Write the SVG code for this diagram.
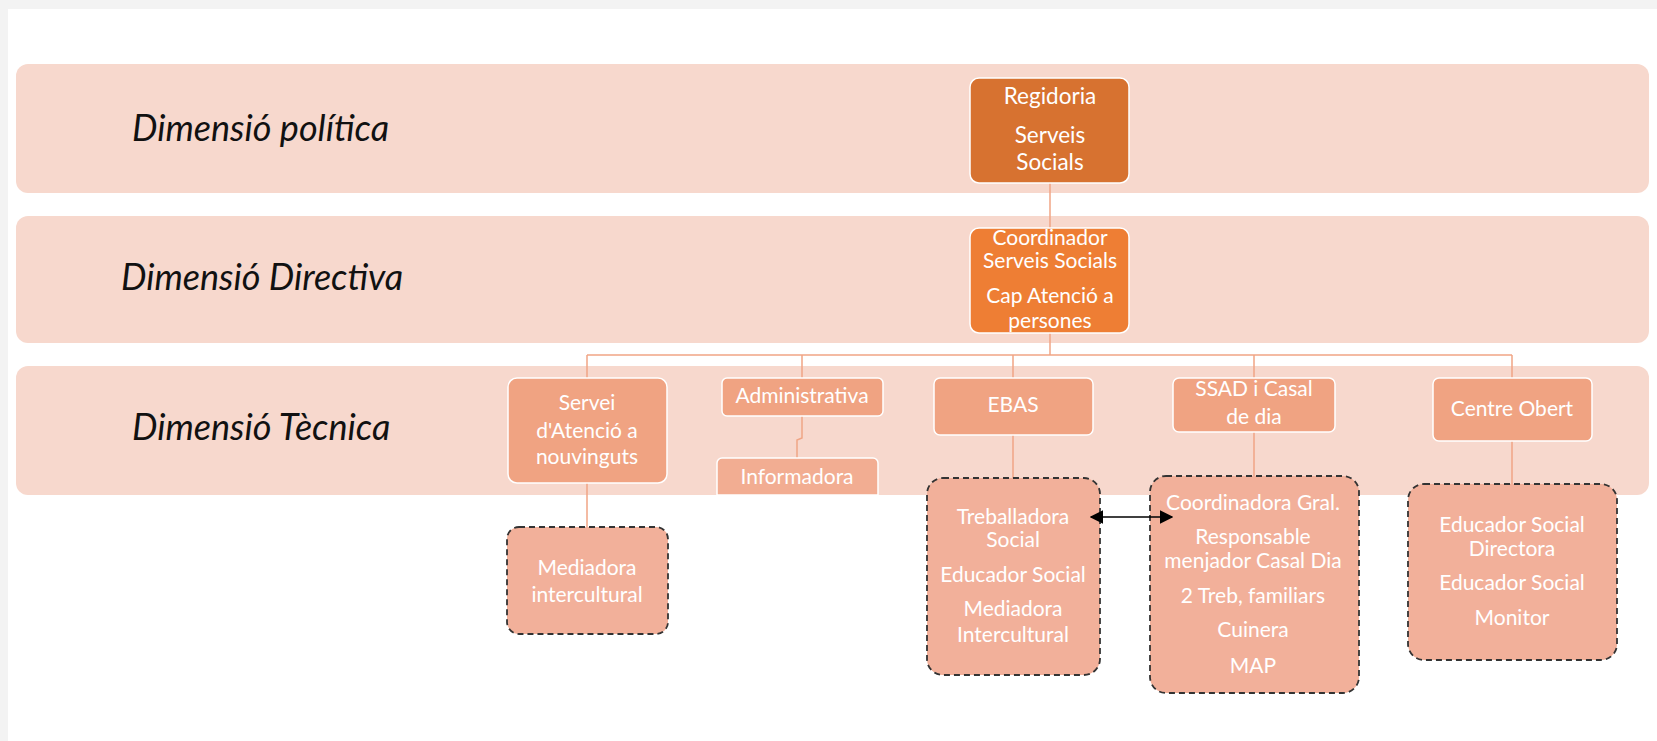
<svg xmlns="http://www.w3.org/2000/svg" width="1657" height="741" viewBox="0 0 1657 741">
<style>
.band{fill:#F7D8CD}
.lbl{font-family:Lato,"Open Sans",sans-serif;font-style:italic;font-size:36px;fill:#111}
.t{font-family:Lato,"Open Sans",sans-serif;font-size:21px;fill:#fff;text-anchor:middle}
.big{font-size:22.5px}
.tech{fill:#F0A382;stroke:#fff;stroke-width:1.5}
.dash{fill:#F2B09A;stroke:#333;stroke-width:1.8;stroke-dasharray:6 4}
.con{stroke:#F0A585;stroke-width:1.5;fill:none}
</style>
<defs>
<marker id="ah" viewBox="0 0 10 10" refX="9" refY="5" markerWidth="9" markerHeight="9" orient="auto-start-reverse"><path d="M0,0 L10,5 L0,10 z" fill="#000"/></marker>
</defs>
<rect x="0" y="0" width="1657" height="741" fill="#f3f3f3"/>
<rect x="8" y="9" width="1649" height="732" fill="#fff"/>
<g id="bands">
<rect class="band" x="16" y="64" width="1633" height="129" rx="12"/>
<rect class="band" x="16" y="216" width="1633" height="127" rx="12"/>
<rect class="band" x="16" y="366" width="1633" height="129" rx="12"/>
<text class="lbl" x="132" y="141">Dimensió política</text>
<text class="lbl" x="121" y="290">Dimensió Directiva</text>
<text class="lbl" x="132" y="440">Dimensió Tècnica</text>
</g>
<g id="connectors">
<line class="con" x1="1050" y1="183" x2="1050" y2="228"/>
<line class="con" x1="1050" y1="333" x2="1050" y2="355"/>
<line class="con" x1="587" y1="355" x2="1512" y2="355"/>
<line class="con" x1="587" y1="355" x2="587" y2="378"/>
<line class="con" x1="802" y1="355" x2="802" y2="378"/>
<line class="con" x1="1013" y1="355" x2="1013" y2="378"/>
<line class="con" x1="1254" y1="355" x2="1254" y2="378"/>
<line class="con" x1="1512" y1="355" x2="1512" y2="378"/>
<polyline class="con" points="802,416 802,438 797,440 797,458"/>
<line class="con" x1="587" y1="483" x2="587" y2="527"/>
<line class="con" x1="1013" y1="435" x2="1013" y2="478"/>
<line class="con" x1="1254" y1="432" x2="1254" y2="476"/>
<line class="con" x1="1512" y1="441" x2="1512" y2="484"/>
</g>
<g id="regidoria">
<rect x="970" y="78" width="159" height="105" rx="9" fill="#D77230" stroke="#fff" stroke-width="1.5"/>
<text class="t big" x="1050" y="104">Regidoria</text>
<text class="t big" x="1050" y="143">Serveis</text>
<text class="t big" x="1050" y="170">Socials</text>
</g>
<g id="coordinador">
<rect x="970" y="228" width="159" height="105" rx="9" fill="#EE7E34" stroke="#fff" stroke-width="1.5"/>
<text class="t" x="1050" y="245">Coordinador</text>
<text class="t" x="1050" y="268">Serveis Socials</text>
<text class="t" x="1050" y="303">Cap Atenció a</text>
<text class="t" x="1050" y="328">persones</text>
</g>
<g id="servei">
<rect class="tech" x="508" y="378" width="159" height="105" rx="9"/>
<text class="t" x="587" y="410">Servei</text>
<text class="t" x="587" y="438">d'Atenció a</text>
<text class="t" x="587" y="464">nouvinguts</text>
</g>
<g id="administrativa">
<rect class="tech" x="722" y="378" width="161" height="38" rx="5"/>
<text class="t" x="802" y="403">Administrativa</text>
</g>
<g id="informadora">
<path d="M717,495 V463 a5,5 0 0 1 5,-5 H873 a5,5 0 0 1 5,5 V495 z" fill="#F2AD92" stroke="#fff" stroke-width="1.5"/>
<text class="t" x="797" y="484">Informadora</text>
</g>
<g id="ebas">
<rect class="tech" x="934" y="378" width="159" height="57" rx="6"/>
<text class="t" x="1013" y="412">EBAS</text>
</g>
<g id="ssad">
<rect class="tech" x="1173" y="378" width="162" height="54" rx="6"/>
<text class="t" x="1254" y="396">SSAD i Casal</text>
<text class="t" x="1254" y="424">de dia</text>
</g>
<g id="centre-obert">
<rect class="tech" x="1433" y="378" width="159" height="63" rx="6"/>
<text class="t" x="1512" y="416">Centre Obert</text>
</g>
<g id="mediadora">
<rect class="dash" x="507" y="527" width="161" height="107" rx="12"/>
<text class="t" x="587" y="575">Mediadora</text>
<text class="t" x="587" y="602">intercultural</text>
</g>
<g id="ebas-team">
<rect class="dash" x="927" y="478" width="173" height="197" rx="16"/>
<text class="t" x="1013" y="524">Treballadora</text>
<text class="t" x="1013" y="547">Social</text>
<text class="t" x="1013" y="582">Educador Social</text>
<text class="t" x="1013" y="616">Mediadora</text>
<text class="t" x="1013" y="642">Intercultural</text>
</g>
<g id="ssad-team">
<rect class="dash" x="1150" y="476" width="209" height="217" rx="16"/>
<text class="t" x="1253" y="510">Coordinadora Gral.</text>
<text class="t" x="1253" y="544">Responsable</text>
<text class="t" x="1253" y="568">menjador Casal Dia</text>
<text class="t" x="1253" y="603">2 Treb, familiars</text>
<text class="t" x="1253" y="637">Cuinera</text>
<text class="t" x="1253" y="673">MAP</text>
</g>
<g id="centre-team">
<rect class="dash" x="1408" y="484" width="209" height="176" rx="16"/>
<text class="t" x="1512" y="532">Educador Social</text>
<text class="t" x="1512" y="556">Directora</text>
<text class="t" x="1512" y="590">Educador Social</text>
<text class="t" x="1512" y="625">Monitor</text>
</g>
<g id="link">
<line x1="1091" y1="517" x2="1172" y2="517" stroke="#000" stroke-width="1.5" marker-start="url(#ah)" marker-end="url(#ah)"/>
</g>
</svg>
